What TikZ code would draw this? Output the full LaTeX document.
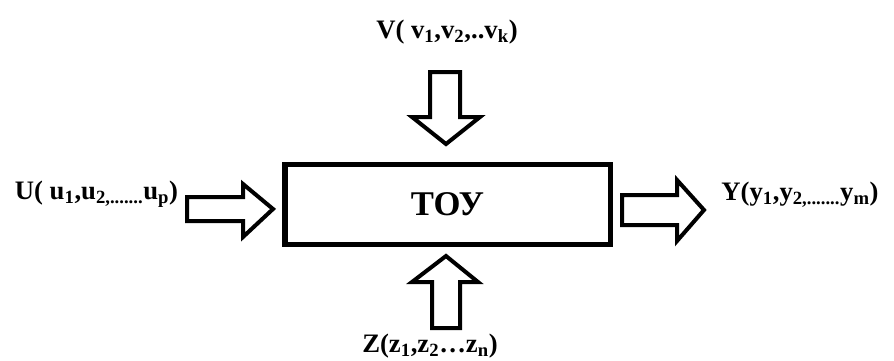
\documentclass[tikz,border=0pt]{standalone}
\usepackage{fontspec}
\setmainfont{Liberation Serif}

\begin{document}
\begin{tikzpicture}[x=0.75pt,y=-0.75pt,
	lbl/.style={font=\fontsize{20}{24}\selectfont\bfseries,inner sep=0pt,anchor=base},
	blockarrow/.style={draw,line width=3pt,line join=miter}]
	
	\useasboundingbox (0,0) rectangle (894,361);
	
	\node[draw,line width=4pt,outer sep=0pt,minimum width=244pt,minimum height=60pt,
		font=\fontsize{26}{30}\selectfont\bfseries] (toy) at (447.5,204.5) {ТОУ};
	
	\node[lbl] (u) at (96.5,199) {U( u\textsubscript{1},u\textsubscript{2,.......}u\textsubscript{p})};
	\node[lbl] (y) at (800,200) {Y(y\textsubscript{1},y\textsubscript{2,.......}y\textsubscript{m})};
	\node[lbl] (v) at (447,38) {V( v\textsubscript{1},v\textsubscript{2},..v\textsubscript{k})};
	\node[lbl] (z) at (430,352) {Z(z\textsubscript{1},z\textsubscript{2}\ldots z\textsubscript{n})};
	
	\draw[blockarrow] (187,197) -- (243,197) -- (243,184) -- (273,209) -- (243,237) -- (243,221) -- (187,221) -- cycle;
	\draw[blockarrow] (622,195) -- (677,195) -- (677,180) -- (704,210) -- (677,241) -- (677,225) -- (622,225) -- cycle;
	\draw[blockarrow] (430,72) -- (460,72) -- (460,117) -- (480,117) -- (446,144) -- (412,117) -- (430,117) -- cycle;
	\draw[blockarrow] (432,328) -- (432,282) -- (412,282) -- (446,256) -- (478,282) -- (460,282) -- (460,328) -- cycle;
	
\end{tikzpicture}
\end{document}
